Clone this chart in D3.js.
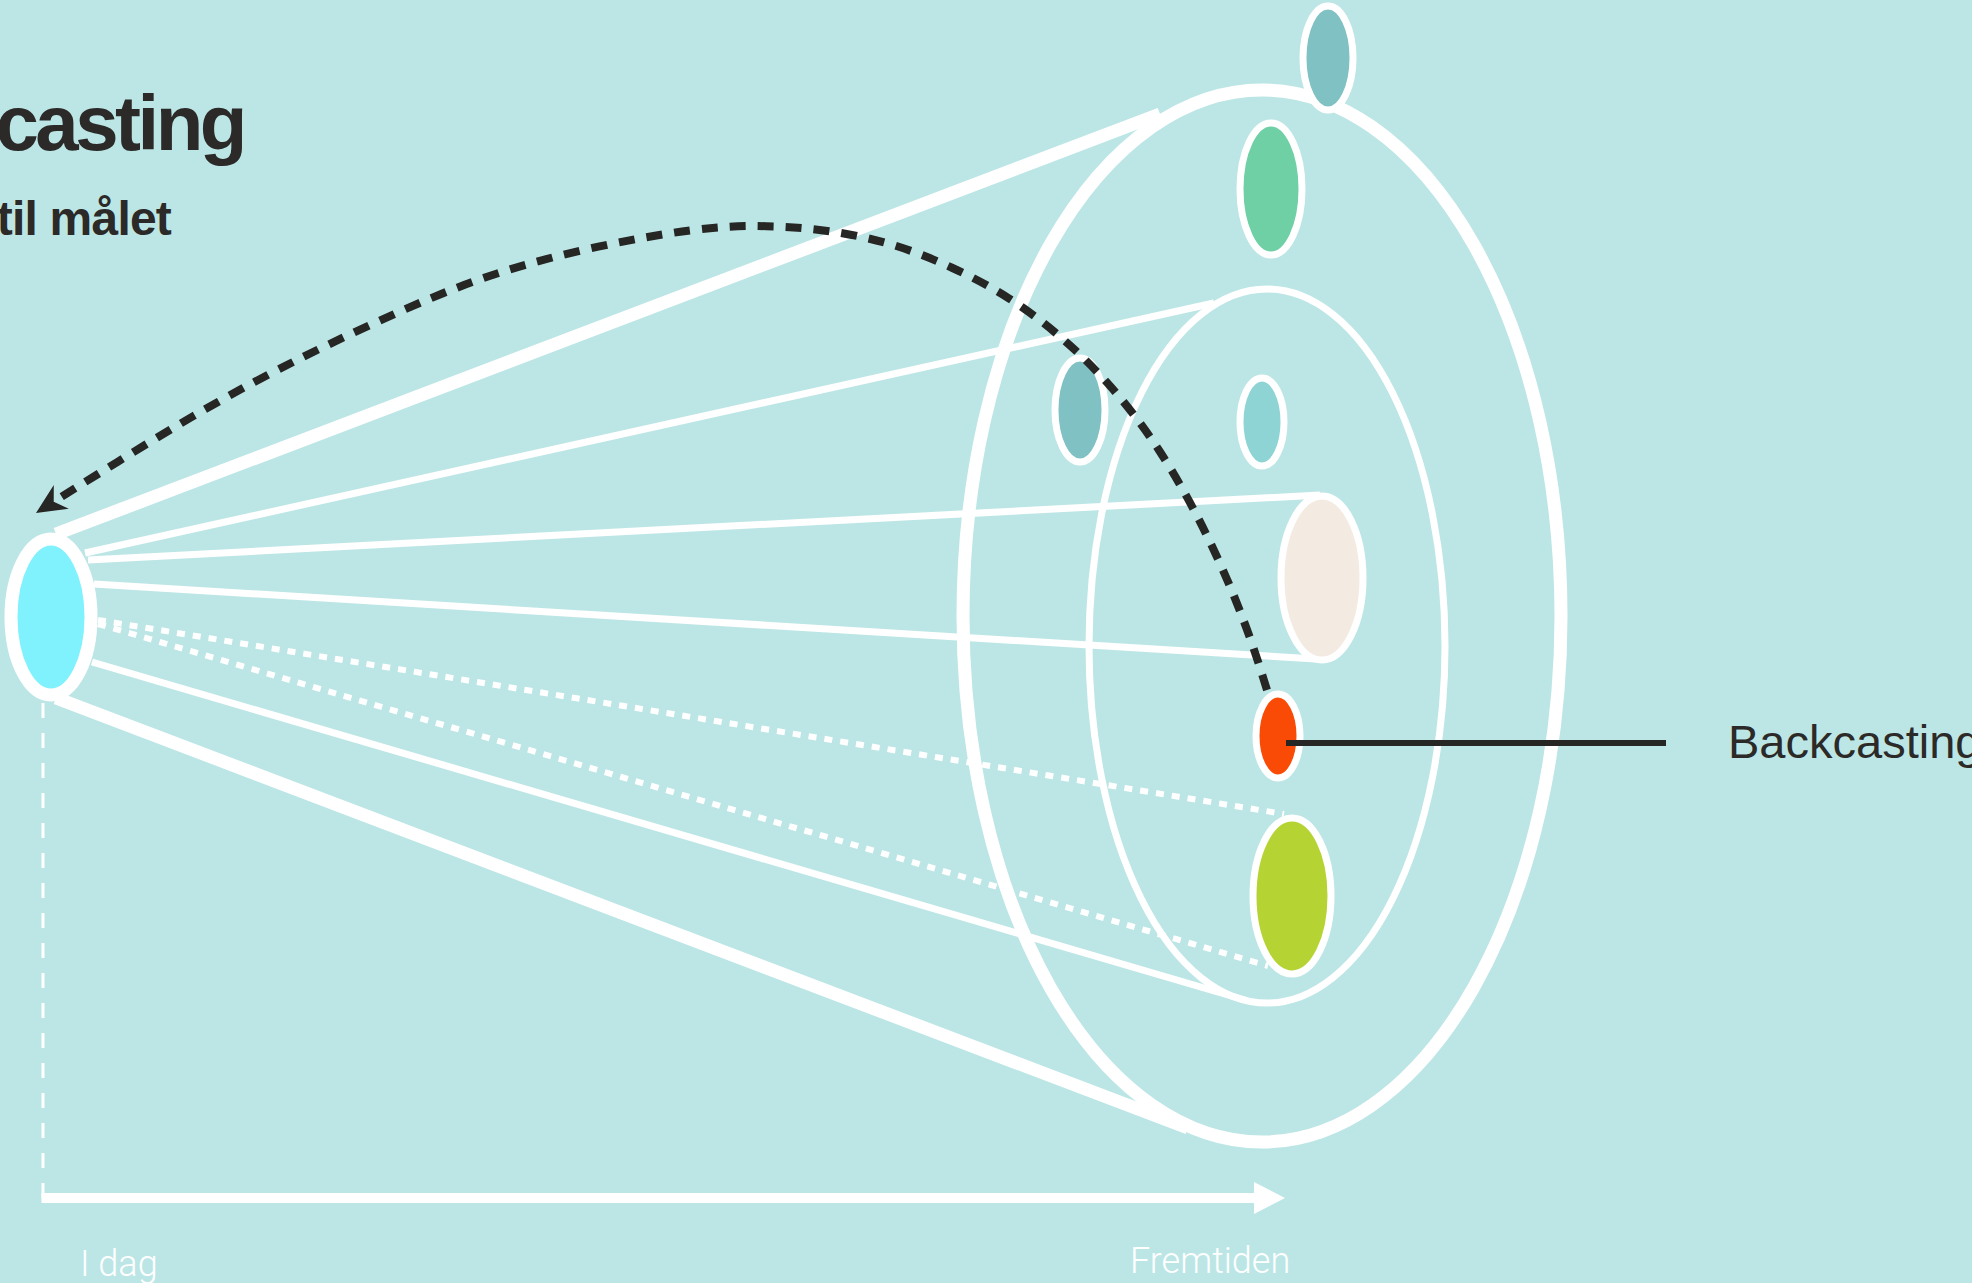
<!DOCTYPE html>
<html>
<head>
<meta charset="utf-8">
<script src="https://cdn.jsdelivr.net/npm/d3@7"></script>
<style>
  html, body { margin: 0; padding: 0; background: #bce6e5; }
  svg { display: block; }
</style>
</head>
<body>
<svg width="1972" height="1283"></svg>
<script>
// values, in reference pixels
const nodeNames = ["today", "top", "green", "tealLeft", "tealSmall", "beige", "target", "lime"];
const nodeCx = [51, 1328, 1271, 1080, 1262, 1322, 1278, 1292];
const nodeCy = [617, 58, 189, 410, 422, 578, 736, 896];
const nodeRx = [40, 25, 31, 25, 22, 41, 22, 39];
const nodeRy = [78, 52, 66, 52, 44, 82, 42, 78];
const nodeColors = ["#80f2fd", "#80c1c3", "#6fcfa5", "#80c1c3", "#8ed4d4", "#f3ebe1", "#fa4b06", "#b6d334"];

// future cone: outer and inner rings
const rings = [
  { cx: 1262, cy: 616, rx: 299, ry: 526, kind: "outer" },
  { cx: 1267, cy: 646, rx: 178, ry: 357, kind: "inner" }
];

// paths from today to the future
const links = [
  { from: [56, 534], to: [1160, 114], kind: "thick" },
  { from: [56, 698], to: [1188, 1128], kind: "thick" },
  { from: [85, 553], to: [1214, 303], kind: "thin" },
  { from: [92, 662], to: [1245, 1000], kind: "thin" },
  { from: [88, 560], to: [1320, 495], kind: "thin" },
  { from: [94, 584], to: [1316, 659], kind: "thin" },
  { from: [98, 620], to: [1284, 814], kind: "dotted" },
  { from: [98, 624], to: [1268, 966], kind: "dotted" }
];

// the backcasting arc, from the target back to today
const arcPoints = [
  [1267, 690], [1247, 626], [1210, 538], [1160, 447], [1107, 380],
  [1060, 335], [1010, 297], [953, 267], [893, 243], [830, 230],
  [767, 225], [700, 227], [585, 248], [478, 277], [373, 323],
  [277, 369], [192, 416], [114, 464], [58, 499]
];
const arcTip = [36, 513];

const axisStart = [43, 1198];
const axisEnd = [1285, 1198];

const svg = d3.select("svg");
const width = +svg.attr("width");
const height = +svg.attr("height");

const x = d3.scaleLinear().domain([0, 1972]).range([0, width]);
const y = d3.scaleLinear().domain([0, 1283]).range([0, height]);
const color = d3.scaleOrdinal().domain(nodeNames).range(nodeColors);

const nodes = nodeNames.map((name, i) => ({
  name, cx: nodeCx[i], cy: nodeCy[i], rx: nodeRx[i], ry: nodeRy[i]
}));

svg.append("rect")
  .attr("width", width)
  .attr("height", height)
  .attr("fill", "#bce6e5");

// title
svg.append("text")
  .attr("x", x(244))
  .attr("y", y(150))
  .attr("text-anchor", "end")
  .attr("font-family", "Liberation Sans, Arial, sans-serif")
  .attr("font-weight", "bold")
  .attr("font-size", 78)
  .attr("letter-spacing", -3.5)
  .attr("fill", "#2b2a28")
  .text("casting");

svg.append("text")
  .attr("x", x(171))
  .attr("y", y(235))
  .attr("text-anchor", "end")
  .attr("font-family", "Liberation Sans, Arial, sans-serif")
  .attr("font-weight", "bold")
  .attr("font-size", 48)
  .attr("letter-spacing", -0.8)
  .attr("fill", "#2b2a28")
  .text("til målet");

// rings
svg.selectAll(".ring")
  .data(rings)
  .enter().append("ellipse")
  .attr("class", "ring")
  .attr("cx", d => x(d.cx))
  .attr("cy", d => y(d.cy))
  .attr("rx", d => x(d.rx))
  .attr("ry", d => y(d.ry))
  .attr("fill", "none")
  .attr("stroke", "#fff")
  .attr("stroke-width", d => d.kind === "outer" ? 13 : 7);

// links
svg.selectAll(".link")
  .data(links)
  .enter().append("line")
  .attr("class", "link")
  .attr("x1", d => x(d.from[0]))
  .attr("y1", d => y(d.from[1]))
  .attr("x2", d => x(d.to[0]))
  .attr("y2", d => y(d.to[1]))
  .attr("stroke", "#fff")
  .attr("stroke-width", d => d.kind === "thick" ? 13 : d.kind === "thin" ? 7 : 6)
  .attr("stroke-dasharray", d => d.kind === "dotted" ? "8 8" : null);

// time axis
svg.append("line")
  .attr("x1", x(axisStart[0]))
  .attr("y1", y(nodeCy[0] + nodeRy[0] + 8))
  .attr("x2", x(axisStart[0]))
  .attr("y2", y(axisStart[1]))
  .attr("stroke", "#fff")
  .attr("stroke-width", 3)
  .attr("stroke-dasharray", "15 15");

svg.append("line")
  .attr("x1", x(axisStart[0]) - 1.5)
  .attr("y1", y(axisStart[1]))
  .attr("x2", x(axisEnd[0]) - 28)
  .attr("y2", y(axisEnd[1]))
  .attr("stroke", "#fff")
  .attr("stroke-width", 10);

svg.append("path")
  .attr("d", `M${x(axisEnd[0]) - 31},${y(axisEnd[1]) - 16} L${x(axisEnd[0])},${y(axisEnd[1])} L${x(axisEnd[0]) - 31},${y(axisEnd[1]) + 16} Z`)
  .attr("fill", "#fff");

svg.append("text")
  .attr("x", x(80))
  .attr("y", y(1276))
  .attr("font-family", "Roboto, Liberation Sans, sans-serif")
  .attr("font-weight", 300)
  .attr("font-size", 36)
  .attr("fill", "#fff")
  .text("I dag");

svg.append("text")
  .attr("x", x(1130))
  .attr("y", y(1273))
  .attr("font-family", "Roboto, Liberation Sans, sans-serif")
  .attr("font-weight", 300)
  .attr("font-size", 36)
  .attr("fill", "#fff")
  .text("Fremtiden");

// nodes
svg.selectAll(".node")
  .data(nodes)
  .enter().append("ellipse")
  .attr("class", "node")
  .attr("cx", d => x(d.cx))
  .attr("cy", d => y(d.cy))
  .attr("rx", d => x(d.rx))
  .attr("ry", d => y(d.ry))
  .attr("fill", d => color(d.name))
  .attr("stroke", "#fff")
  .attr("stroke-width", d => d.name === "today" ? 13 : 7);

// backcasting arc
const arcLine = d3.line()
  .x(d => x(d[0]))
  .y(d => y(d[1]))
  .curve(d3.curveBasis);

svg.append("path")
  .datum(arcPoints)
  .attr("d", arcLine)
  .attr("fill", "none")
  .attr("stroke", "#262624")
  .attr("stroke-width", 8)
  .attr("stroke-dasharray", "16 12");

// arrow head
const last = arcPoints[arcPoints.length - 1];
const ang = Math.atan2(y(arcTip[1]) - y(last[1]), x(arcTip[0]) - x(last[0]));
const tipX = x(arcTip[0]), tipY = y(arcTip[1]);
const headLen = 30, headW = 14;
const bx = tipX - headLen * Math.cos(ang), by = tipY - headLen * Math.sin(ang);
const nx = -Math.sin(ang), ny = Math.cos(ang);
svg.append("path")
  .attr("d", `M${tipX},${tipY} L${bx + nx * headW},${by + ny * headW} L${tipX - headLen * 0.7 * Math.cos(ang)},${tipY - headLen * 0.7 * Math.sin(ang)} L${bx - nx * headW},${by - ny * headW} Z`)
  .attr("fill", "#262624");

// pointer to the target
const target = nodes.find(d => d.name === "target");
svg.append("line")
  .attr("x1", x(target.cx + 8))
  .attr("y1", y(743))
  .attr("x2", x(1666))
  .attr("y2", y(743))
  .attr("stroke", "#262624")
  .attr("stroke-width", 6);

svg.append("text")
  .attr("x", x(1728))
  .attr("y", y(758))
  .attr("font-family", "Liberation Sans, Arial, sans-serif")
  .attr("font-size", 47)
  .attr("fill", "#2b2a28")
  .text("Backcasting");
</script>
</body>
</html>
